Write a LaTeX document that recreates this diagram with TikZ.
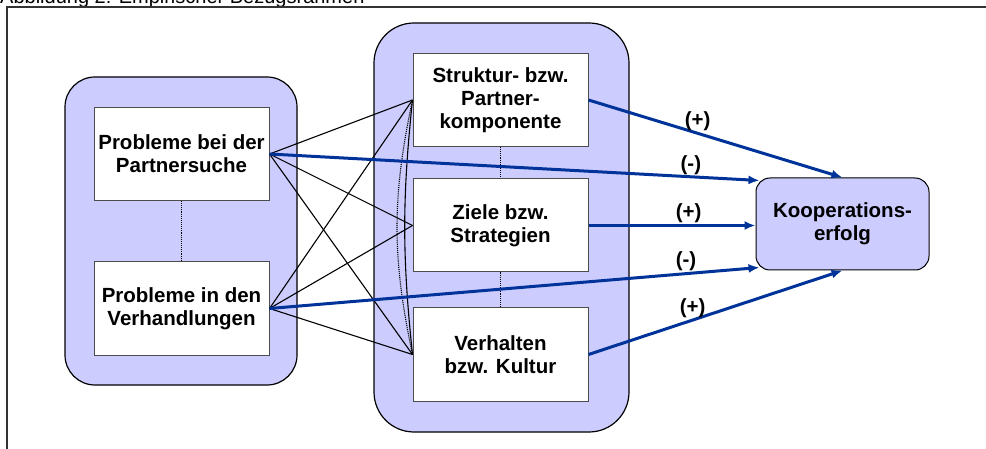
\documentclass[tikz,border=0pt]{standalone}
\usepackage{fontspec}
\setmainfont{Liberation Sans}
\usetikzlibrary{arrows.meta}
\definecolor{lila}{RGB}{204,204,255}
\definecolor{dunkelblau}{RGB}{0,51,153}
\tikzset{
  gruppe/.style={draw=black, line width=1.2pt, fill=lila, rounded corners=#1},
  feld/.style={draw=black!70, line width=1pt, fill=white, minimum width=175pt,
    minimum height=93pt, align=center, font=\bfseries\fontsize{20.5}{23}\selectfont},
  wirkung/.style={draw=dunkelblau, line width=3pt, -{Latex[length=11pt,width=9pt]}},
  vorzeichen/.style={font=\bfseries\fontsize{20.5}{23}\selectfont, inner sep=1pt, above}
}
\begin{document}
\begin{tikzpicture}[x=1pt,y=-1pt]
   \useasboundingbox (0,0) rectangle (986,449);
   \node[anchor=base west, inner sep=0pt, font=\fontsize{20}{24}\selectfont] (titel) at (0,4) {Abbildung 2: Empirischer Bezugsrahmen};
   \draw[line width=1.2pt, black!80] (7,449) -- (7,7) -- (986,7);
   % Rahmen der beiden Gruppen
   \draw[gruppe=30pt] (65,77) rectangle (297,385);
   \draw[gruppe=40pt] (374,23) rectangle (629,432);
   \node[feld] (suche) at (181.5,154) {Probleme bei der\\Partnersuche};
   \node[feld] (verh) at (181.5,308.5) {Probleme in den\\Verhandlungen};
   \node[feld] (struktur) at (500.5,100) {Struktur- bzw.\\Partner-\\komponente};
   \node[feld] (ziele) at (500.5,225.5) {Ziele bzw.\\Strategien};
   \node[feld] (kultur) at (500.5,354.5) {Verhalten\\bzw. Kultur};
   \node[feld, draw=black, fill=lila, rounded corners=14pt, minimum width=173pt, minimum height=92pt] (erfolg) at (842.5,224) {Kooperations-\\erfolg};
   \begin{scope}[line width=1.1pt]
     \draw[densely dotted] (suche) -- (verh);
     \draw[densely dotted] (struktur) -- (ziele);
     \draw[densely dotted] (ziele) -- (kultur);
     \foreach \a in {suche,verh}
       \foreach \b in {struktur,ziele,kultur}
         \draw (\a.east) -- (\b.west);
     \draw (struktur.west) to[bend right=6] (kultur.west);
     \draw[densely dotted] (struktur.west) to[bend right=12] (kultur.west);
   \end{scope}
   % Wirkungen auf den Erfolg
   \draw[wirkung] (struktur.east) -- node[vorzeichen, pos=.43]{(+)} (erfolg.north);
   \draw[wirkung] (suche.east) -- node[vorzeichen, pos=.86]{(-)} ([xshift=4pt,yshift=-3pt]erfolg.north west);
   \draw[wirkung] (ziele.east) -- node[vorzeichen, pos=.6]{(+)} (erfolg.west |- ziele.east);
   \draw[wirkung] (verh.east) -- node[vorzeichen, pos=.85]{(-)} ([xshift=4pt,yshift=3pt]erfolg.south west);
   \draw[wirkung] (kultur.east) -- node[vorzeichen, pos=.41]{(+)} (erfolg.south);
\end{tikzpicture}
\end{document}
